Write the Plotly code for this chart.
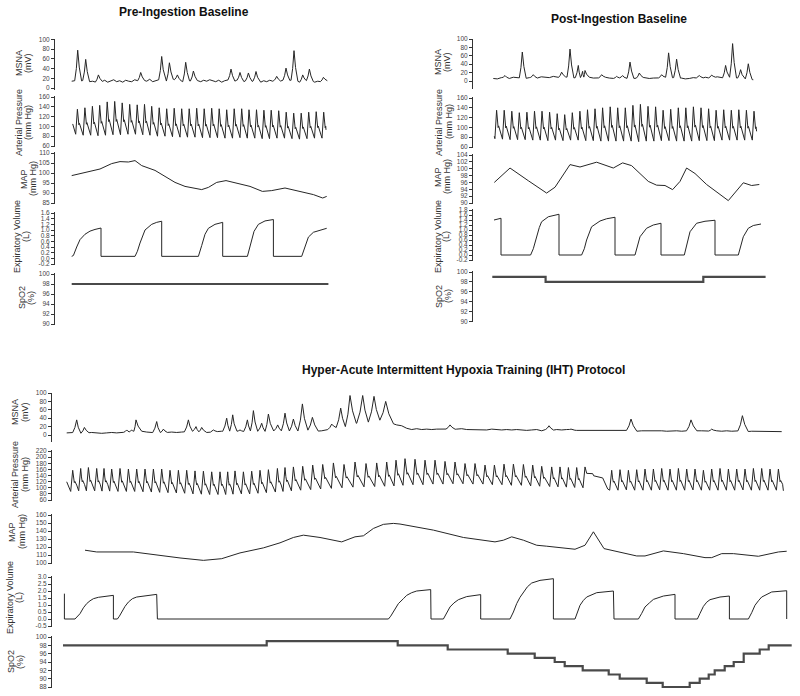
import numpy as np
import plotly.graph_objects as go

W, H = 800, 696
LINE = '#262626'
FONT = 'Liberation Sans, Arial, sans-serif'

# ======================= DATA =======================
# ---- Pre-Ingestion Baseline (time in s) ----
pre_msna_dt = 0.3
pre_msna_base = [14,15,13,14,16,15,13,14,12,15, 13,16,12,14,17,13,15,12,16,14,
                 13,17,15,12,16,14,18,13,15,17, 14,16,13,15,18,14,16,13,17,15,
                 14,18,15,13,16,14,17,15,13,16, 12,15,17,14,13,16,14,12,15,17,
                 13,16,14,12,15,13,16,14,17,13, 15,18,14,16,13,15,12,14,16,13,
                 15,12,14,13,15]
pre_burst_t = [0.6, 1.4, 2.67, 6.9, 9.0, 9.77, 10.57, 11.4, 12.17, 15.93, 16.83, 17.67,
               18.43, 20.5, 21.43, 22.23, 23.1, 23.77, 25.17]
pre_burst_v = [78, 59, 27, 32, 65, 52, 27, 53, 35, 39, 32, 31, 34, 24, 41, 77, 27, 39, 22]

pre_beat_t = [0.57, 1.32, 2.07, 2.8, 3.55, 4.3, 5.05, 5.8, 6.55, 7.28, 8.0, 8.75, 9.5, 10.25,
              11.0, 11.75, 12.5, 13.25, 14.0, 14.75, 15.5, 16.25, 17.0, 17.73, 18.48, 19.22,
              19.95, 20.7, 21.45, 22.2, 22.95, 23.7, 24.45, 25.2]
pre_sys = [135,138,141,143,150,151,148,145,144,145, 141,138,136,137,136,136,137,136,137,136,
           134,136,136,134,134,133,133,132,129,127, 127,129,130,129]
pre_dia = [84,82,82,81,82,83,83,84,84,83, 82,80,80,79,78,78,78,77,77,77,
           76,76,77,76,76,75,75,76,76,75, 74,75,76,76]
pre_ap_start = (0.1, 105)
pre_ap_end = (25.43, 93)

pre_map_t = [0, 2.83, 4.0, 4.83, 5.67, 6.33, 7.0, 8.33, 9.33, 10.33, 11.33, 13.0, 13.67, 14.5,
             15.43, 16.5, 17.83, 19.07, 20.0, 21.33, 22.83, 24.17, 25.1, 25.5]
pre_map_v = [98.7, 102, 104.7, 105.7, 105.5, 106.2, 103.7, 101.3, 98.3, 95.3, 93.3, 91.7, 92.8,
             95.3, 96.2, 95, 93.3, 90.8, 91.2, 92.5, 90.8, 89.2, 87.5, 88.3]

pre_ev_t = [0, 0.17, 0.5, 0.83, 1.33, 1.83, 2.33, 2.83, 2.93, 2.93,
            6.33, 6.57, 6.83, 7.33, 7.67, 8.0, 8.5, 9.0, 9.0,
            12.67, 13.0, 13.33, 13.67, 14.33, 15.1, 15.1,
            17.57, 17.9, 18.23, 18.67, 19.33, 20.17, 20.17,
            23.0, 23.33, 23.67, 24.17, 24.83, 25.5]
pre_ev_v = [0.07, 0.1, 0.4, 0.66, 0.85, 0.96, 1.02, 1.06, 1.07, 0.07,
            0.07, 0.25, 0.54, 1.0, 1.12, 1.2, 1.27, 1.31, 0.07,
            0.07, 0.45, 0.85, 1.06, 1.2, 1.27, 0.07,
            0.07, 0.5, 0.95, 1.2, 1.32, 1.37, 0.07,
            0.07, 0.4, 0.75, 0.92, 1.0, 1.06]

pre_spo2_start = 0.0
pre_spo2_end = [25.67]
pre_spo2_lvl = [98]

# ---- Post-Ingestion Baseline ----
post_msna_dt = 0.4
post_msna_base = [6,5,8,7,6,9,8,7,6,8, 9,7,10,9,8,11,9,8,10,8,
                  7,9,8,10,9,7,8,6,9,7, 6,8,7,5,8,6,7,9,8,6,
                  7,8,6,9,7,8,6,7,5,6, 8,7,6,9,7,8,10,8,7,9,
                  8,7,6,5,4,3]
post_burst_t = [1.17, 2.9, 4.0, 6.83, 7.67, 8.5, 8.93, 9.17, 10.83, 12.33, 12.93, 13.67, 14.6,
                16.83, 17.53, 18.33, 20.6, 21.83, 23.23, 23.93, 24.73, 25.5]
post_burst_v = [13, 69, 15, 21, 76, 37, 23, 25, 15, 11, 13, 45, 19, 15, 67, 52, 13, 14, 37, 89, 27, 41]

post_beat_t = [0.33, 1.09, 1.85, 2.6, 3.36, 4.12, 4.87, 5.63, 6.39, 7.14, 7.9, 8.66, 9.42, 10.17,
               10.93, 11.69, 12.44, 13.2, 13.96, 14.71, 15.47, 16.23, 16.98, 17.74, 18.5, 19.25,
               20.01, 20.77, 21.53, 22.28, 23.04, 23.8, 24.55, 25.31, 26.07]
post_sys = [135,135,133,130,131,133,133,131,128,126, 130,133,136,138,140,142,140,140,145,147,
            143,142,135,137,140,140,142,140,138,135, 136,135,136,135,133]
post_dia = [77,76,75,75,75,74,74,73,74,73, 74,74,73,73,72,72,72,72,72,71,
            72,72,73,73,72,72,72,73,73,73, 74,74,74,74,74]
post_ap_start = (0.1, 82)
post_ap_end = (26.33, 92)

post_map_t = [0.1, 1.67, 3.5, 5.33, 6.17, 7.0, 7.67, 8.67, 10.33, 12.0, 12.93, 13.83, 15.5, 16.33,
              17.17, 17.93, 18.67, 19.33, 20.17, 21.33, 23.5, 25.0, 25.83, 26.6]
post_map_v = [96, 100.2, 96.5, 92.9, 94.6, 98.3, 101.2, 100.5, 101.9, 100.2, 101.7, 100.9, 96.3,
              95.2, 95.1, 93.9, 96.3, 100.2, 98.6, 95.4, 90.7, 95.9, 95.1, 95.4]

post_ev_t = [0.07, 0.77, 0.77,
             3.73, 4.0, 4.33, 4.6, 4.83, 5.5, 6.57, 6.57,
             8.83, 9.1, 9.33, 9.83, 10.67, 11.33, 12.17, 12.17,
             14.17, 14.4, 14.67, 15.33, 16.0, 16.77, 16.77,
             19.1, 19.33, 19.67, 20.33, 21.17, 22.17, 22.17,
             24.5, 24.73, 25.0, 25.5, 26.0, 26.77]
post_ev_v = [1.4, 1.47, 0.0,
             0.0, 0.25, 0.73, 1.1, 1.33, 1.53, 1.63, 0.0,
             0.0, 0.25, 0.6, 1.13, 1.36, 1.45, 1.51, 0.0,
             0.0, 0.3, 0.73, 1.07, 1.2, 1.27, 0.0,
             0.0, 0.4, 0.93, 1.27, 1.35, 1.39, 0.0,
             0.0, 0.3, 0.73, 1.07, 1.18, 1.24]

post_spo2_start = -0.1
post_spo2_end = [5.23, 21.0, 27.23]
post_spo2_lvl = [99, 98, 99]

# ---- Hyper-Acute IHT Protocol ----
iht_msna_dt = 0.5
iht_msna_base = [5,6,5,4,5,6,5,4,5,6,5,
                 6,7,8,10,9,7,6,5,6,6,
                 7,6,7,8,9,8,7,6,7,8,
                 9,8,10,9,8,9,10,9,8,9,
                 10,9,10,9,10,9,11,12,10,9,
                 10,12,16,18,20,20,
                 24,28,30,30,32,34,36,32,
                 28,24,22,16,13,15,
                 13,14,13,14,15,14,13,14,15,13,
                 13,12,13,12,14,13,12,13,12,13,
                 12,11,12,13,10,14,11,13,12,13,
                 12,11,11,10,11,10,10,11,10,10,
                 10,11,10,9,10,10,11,10,10,9,
                 10,10,9,10,11,10,10,9,10,10,
                 9,10,9,10,9,8,9,9,8,9,8,8,8]
iht_burst_t = [1.0, 1.77, 6.0, 6.5, 6.93, 9.0, 9.67, 12.17, 12.93, 13.5, 14.67, 16.0, 16.6,
               17.33, 18.07, 18.67, 19.5, 20.17, 21.1, 21.83, 22.67, 23.57, 24.57, 26.5, 27.4,
               28.33, 29.6, 30.73, 31.9, 38.33, 48.23, 50.43, 56.43, 62.43, 64.5, 67.57]
iht_burst_v = [36, 18, 12, 12, 36, 32, 14, 36, 20, 18, 12, 40, 48, 12, 36, 58, 28, 50, 24, 52,
               38, 74, 42, 26, 64, 94, 94, 92, 80, 24, 22, 14, 38, 36, 14, 46]
iht_burst_w = [0.4, 0.35, 0.3, 0.3, 0.4, 0.4, 0.3, 0.4, 0.35, 0.35, 0.3, 0.4, 0.4, 0.3, 0.4,
               0.45, 0.4, 0.45, 0.4, 0.45, 0.4, 0.5, 0.45, 0.4, 0.5, 0.6, 0.6, 0.6, 0.6,
               0.4, 0.35, 0.3, 0.45, 0.45, 0.3, 0.45]

iht_beat_t_a = [0.6, 1.4, 2.17, 3.0, 3.73, 4.5, 5.33, 6.17, 7.0, 7.83, 8.67, 9.5, 10.33, 11.17,
                12.0, 12.83, 13.67, 14.5, 15.33, 16.1, 16.83, 17.67, 18.5, 19.33, 20.17, 21.07,
                21.83, 22.67, 23.6, 24.6, 25.6, 26.67, 27.73, 28.83, 29.93, 31.0, 32.0, 32.93,
                33.83, 34.83, 35.83, 36.83, 37.83, 38.83, 39.83, 40.83, 41.83, 42.77, 43.73,
                44.67, 45.67, 46.6, 47.5, 48.5, 49.33, 50.17, 51.0, 51.83]
iht_sys_a = [157,163,166,163,163,161,163,161,161,161, 161,161,157,157,157,155,154,152,152,152,
             155,152,154,157,159,163,166,168,170,174, 176,181,176,184,179,181,184,190,
             195,193,190,190,186,184,179,179,174,174, 177,177,176,174,170,168,168,166,166,168]
iht_dia_a = [88,90,90,90,89,89,88,88,88,87, 86,85,84,83,82,80,79,78,78,78,
             79,80,80,82,84,86,88,90,92,94, 96,98,100,102,103,104,105,106,
             108,110,110,112,112,113,113,112,112,110, 110,108,108,106,105,104,103,102,101,100]
iht_artifact_t = [52.0, 52.6, 52.7, 53.6, 54.1]
iht_artifact_v = [147, 146, 139, 132, 96]
iht_beat_t_b = [54.5, 55.33, 56.17, 57.0, 57.83, 58.67, 59.5, 60.33, 61.17, 62.0, 62.83, 63.67,
                64.5, 65.33, 66.17, 67.0, 67.83, 68.67, 69.5, 70.33, 71.17]
iht_sys_b = [157,159,157,159,161,161,163,161,163,161,161,157,161,163,161,161,161,163,163,161,161]
iht_dia_b = [92,92,93,92,92,92,93,92,92,92,93,92,92,92,92,92,93,92,92,92,92]
iht_ap_start = (0.0, 119.5)
iht_ap_end = (71.67, 90)

iht_map_t = [1.83, 3.0, 6.67, 9.0, 11.33, 13.67, 15.5, 17.33, 19.67, 21.33, 22.67, 23.67, 25.33,
             27.5, 28.83, 29.67, 30.67, 31.67, 32.67, 33.33, 36.67, 39.67, 42.83, 43.67, 44.5,
             45.67, 47.0, 48.0, 50.83, 51.83, 52.67, 53.73, 55.0, 57.0, 57.83, 59.67, 61.67,
             63.83, 64.5, 65.5, 66.67, 69.17, 71.17, 72.0]
iht_map_v = [116, 113.8, 113.8, 109.6, 106.3, 103.3, 105.4, 112.6, 118.9, 125.2, 131.9, 134.8,
             131.9, 126.4, 132.7, 134, 143.2, 148.3, 149.5, 148.7, 141.1, 131.9, 126.4, 128.5,
             132.7, 128.5, 122.2, 121, 117.2, 122.2, 139, 118, 114.7, 108.8, 108.8, 115.1, 111.7,
             106.7, 106.7, 111.7, 111.7, 108.4, 113.8, 114.7]

iht_ev_t = [-0.23, -0.23, 0.83,
            1.07, 1.33, 1.67, 2.0, 2.33, 2.67, 3.17, 3.67, 4.67, 4.67,
            5.07, 5.27, 5.5, 5.83, 6.17, 6.57, 7.0, 8.0, 9.0, 9.07,
            32.17, 32.4, 32.67, 33.17, 33.67, 34.0, 34.5, 35.0, 36.4, 36.43,
            37.67, 38.0, 38.33, 38.73, 39.17, 40.0, 41.4, 41.4,
            44.33, 44.67, 45.0, 45.33, 45.67, 46.07, 46.5, 47.33, 48.67, 48.67,
            50.83, 51.07, 51.33, 51.67, 52.0, 53.0, 54.67, 54.73,
            57.17, 57.5, 57.83, 58.27, 58.67, 59.67, 60.83, 60.83,
            63.07, 63.33, 63.67, 64.0, 64.33, 65.33, 66.27, 66.27,
            68.17, 68.5, 68.83, 69.17, 69.5, 70.5, 72.0, 72.0]
iht_ev_v = [1.81, 0.0, 0.0,
            0.15, 0.38, 0.8, 1.1, 1.3, 1.45, 1.55, 1.6, 1.69, 0.0,
            0.0, 0.2, 0.5, 0.9, 1.21, 1.45, 1.57, 1.69, 1.76, 0.0,
            0.0, 0.2, 0.5, 1.1, 1.45, 1.69, 1.88, 2.0, 2.1, 0.0,
            0.0, 0.4, 0.86, 1.15, 1.38, 1.6, 1.74, 0.0,
            0.0, 0.5, 1.1, 1.55, 1.93, 2.3, 2.57, 2.76, 2.88, 0.0,
            0.0, 0.45, 0.98, 1.33, 1.57, 1.88, 2.0, 0.0,
            0.0, 0.4, 0.86, 1.15, 1.4, 1.64, 1.76, 0.0,
            0.0, 0.4, 0.9, 1.2, 1.38, 1.57, 1.64, 0.0,
            0.0, 0.45, 0.98, 1.3, 1.57, 1.93, 2.02, 0.0]

iht_spo2_start = -0.37
iht_spo2_end = [20.0, 33.1, 38.1, 44.1, 46.8, 48.8, 49.8, 51.6, 54.2, 55.3, 58.0, 59.6, 62.3,
                63.3, 64.2, 64.8, 65.8, 66.7, 67.7, 69.3, 70.2, 72.5]
iht_spo2_lvl = [98, 99, 98, 97, 96, 95, 94, 93, 92, 91, 90, 89, 88, 89, 90, 91, 92, 93, 94, 96,
                97, 98]

# ======================= BUILDERS =======================
# pulse template after each systolic peak: (fraction of beat interval, fraction of pulse pressure)
SHAPE = [(0.10, 0.62), (0.20, 0.40), (0.27, 0.46), (0.50, 0.28)]


def msna_trace(base, dt, bt, bv, bw):
    tb = np.arange(len(base)) * dt
    base = np.asarray(base, float)
    n = len(bt)
    widths = bw if isinstance(bw, (list, tuple)) else [bw] * n
    keep = np.ones(len(tb), bool)
    extra = []
    for i in range(n):
        t, v, w = bt[i], bv[i], widths[i]
        lo, hi = t - w, t + 1.3 * w
        if i > 0:
            lo = max(lo, (bt[i - 1] + t) / 2)
        if i < n - 1:
            hi = min(hi, (bt[i + 1] + t) / 2)
        keep &= ~((tb > lo) & (tb < hi))
        blo = float(np.interp(lo, tb, base))
        bhi = float(np.interp(hi, tb, base))
        extra += [(lo, blo), (t - 0.45 * (t - lo), blo + 0.4 * (v - blo)), (t, v),
                  (t + 0.4 * (hi - t), bhi + 0.45 * (v - bhi)), (hi, bhi)]
    pts = [(tb[k], base[k]) for k in range(len(tb)) if keep[k]] + extra
    pts.sort(key=lambda p: p[0])
    return [p[0] for p in pts], [p[1] for p in pts]


def pulse_trace(bt, sy, dy, rise, start=None, end=None):
    xs, ys = [], []
    if start is not None:
        xs.append(start[0]); ys.append(start[1])
    n = len(bt)
    for i in range(n):
        t = bt[i]
        xs += [t - rise, t]; ys += [dy[i], sy[i]]
        if i < n - 1:
            T = bt[i + 1] - t; dn = dy[i + 1]
            for fx, fy in SHAPE:
                xs.append(t + fx * T); ys.append(dn + fy * (sy[i] - dn))
        elif end is not None:
            T = bt[i] - bt[i - 1]; dn = dy[i]
            for fx, fy in SHAPE:
                if t + fx * T < end[0]:
                    xs.append(t + fx * T); ys.append(dn + fy * (sy[i] - dn))
            xs.append(end[0]); ys.append(end[1])
    return xs, ys


def step_trace(t0, ends, lvls):
    return [t0] + list(ends), list(lvls) + [lvls[-1]]


# ======================= LAYOUT SPEC =======================
# panel: x domain in px, px position of t=0, px per second
PANELS = {
    'pre': dict(xdom=(55, 340), x0=71.7),
    'post': dict(xdom=(473, 775), x0=493.3),
    'iht': dict(xdom=(52, 795), x0=66.7),
}
PXS = 10.0

def ticks(a, b, s):
    n = int(round((b - a) / s))
    return [round(a + k * s, 2) for k in range(n + 1)]

# (v_top, px_top, v_bot, px_bot, line_top, line_bot, tickvals, decimals)
YSPEC = {
    ('pre', 0): (100, 39.5, 0, 88, 39, 90, ticks(0, 100, 20), 0),
    ('pre', 1): (160, 97, 60, 146, 96, 147, ticks(60, 160, 20), 0),
    ('pre', 2): (110, 153, 85, 203, 152, 204, ticks(85, 110, 5), 0),
    ('pre', 3): (1.6, 213, -0.2, 264, 212, 265, ticks(-0.2, 1.6, 0.2), 1),
    ('pre', 4): (100, 274, 90, 324, 273, 325, ticks(90, 100, 2), 0),
    ('post', 0): (100, 39, 0, 81, 39, 89, ticks(0, 100, 20), 0),
    ('post', 1): (160, 98, 60, 147, 97, 148, ticks(60, 160, 20), 0),
    ('post', 2): (104, 155, 90, 203, 154, 204, ticks(90, 104, 2), 0),
    ('post', 3): (1.8, 210, -0.2, 260, 209, 261, ticks(-0.2, 1.8, 0.2), 1),
    ('post', 4): (100, 272, 90, 321.5, 271, 322, ticks(90, 100, 2), 0),
    ('iht', 0): (100, 393, 0, 435, 393, 442, ticks(0, 100, 20), 0),
    ('iht', 1): (220, 451, 60, 500, 450, 501, ticks(60, 220, 20), 0),
    ('iht', 2): (160, 515, 100, 563, 514, 564, ticks(100, 160, 10), 0),
    ('iht', 3): (3.0, 577, -0.5, 626, 576, 627, ticks(-0.5, 3.0, 0.5), 1),
    ('iht', 4): (100, 637, 88, 687, 636, 688, ticks(88, 100, 2), 0),
}

TITLES = [
    ('MSNA', '(mV)'), ('Arterial Pressure', '(mm Hg)'), ('MAP', '(mm Hg)'),
    ('Expiratory Volume', '(L)'), ('SpO2', '(%)'),
]
# (x of line 1, x of line 2, y centre) in px
TITLE_POS = {
    'pre': [(19, 28, 63), (19, 28, 123), (24, 33, 179), (17, 26, 237), (22, 31, 298)],
    'post': [(438, 447, 62), (439, 449, 122), (438, 447, 177), (438, 446, 237), (439, 448, 296)],
    'iht': [(15, 25, 412), (15, 25, 475), (12, 22, 532), (10, 19, 598), (11, 20, 662)],
}
PANEL_TITLES = [
    ('Pre-Ingestion Baseline', 184, 12),
    ('Post-Ingestion Baseline', 619, 19),
    ('Hyper-Acute Intermittent Hypoxia Training (IHT) Protocol', 463, 370),
]

# ======================= BUILD SERIES =======================
series = {
    'pre': [
        msna_trace(pre_msna_base, pre_msna_dt, pre_burst_t, pre_burst_v, 0.3),
        pulse_trace(pre_beat_t, pre_sys, pre_dia, 0.17, pre_ap_start, pre_ap_end),
        (pre_map_t, pre_map_v),
        (pre_ev_t, pre_ev_v),
        step_trace(pre_spo2_start, pre_spo2_end, pre_spo2_lvl),
    ],
    'post': [
        msna_trace(post_msna_base, post_msna_dt, post_burst_t, post_burst_v, 0.3),
        pulse_trace(post_beat_t, post_sys, post_dia, 0.17, post_ap_start, post_ap_end),
        (post_map_t, post_map_v),
        (post_ev_t, post_ev_v),
        step_trace(post_spo2_start, post_spo2_end, post_spo2_lvl),
    ],
}
ax_a, ay_a = pulse_trace(iht_beat_t_a, iht_sys_a, iht_dia_a, 0.2, iht_ap_start, None)
ax_b, ay_b = pulse_trace(iht_beat_t_b, iht_sys_b, iht_dia_b, 0.2, None, iht_ap_end)
series['iht'] = [
    msna_trace(iht_msna_base, iht_msna_dt, iht_burst_t, iht_burst_v, iht_burst_w),
    (ax_a + iht_artifact_t + ax_b, ay_a + iht_artifact_v + ay_b),
    (iht_map_t, iht_map_v),
    (iht_ev_t, iht_ev_v),
    step_trace(iht_spo2_start, iht_spo2_end, iht_spo2_lvl),
]

# ======================= FIGURE =======================
fig = go.Figure()
layout = dict(width=W, height=H, margin=dict(l=0, r=0, t=0, b=0),
              paper_bgcolor='white', plot_bgcolor='white', showlegend=False,
              annotations=[])

k = 0
for pname in ['pre', 'post', 'iht']:
    P = PANELS[pname]
    xa, xb = P['xdom']
    for r in range(5):
        k += 1
        xn = 'x' if k == 1 else f'x{k}'
        yn = 'y' if k == 1 else f'y{k}'
        xs, ys = series[pname][r]
        is_spo2 = (r == 4)
        fig.add_trace(go.Scatter(
            x=xs, y=ys, mode='lines', xaxis=xn, yaxis=yn, hoverinfo='skip',
            line=dict(color='#4a4a4a' if is_spo2 else LINE, width=2.2 if is_spo2 else 1,
                      shape='hv' if is_spo2 else 'linear')))
        vt, pt, vb, pb, lt, lb, tv, dec = YSPEC[(pname, r)]
        s = (vt - vb) / (pb - pt)
        yr = [vb - (lb - pb) * s, vt + (pt - lt) * s]
        layout['xaxis' if k == 1 else f'xaxis{k}'] = dict(
            domain=[xa / W, xb / W],
            range=[(xa - P['x0']) / PXS, (xb - P['x0']) / PXS],
            visible=False, anchor=yn, fixedrange=True)
        layout['yaxis' if k == 1 else f'yaxis{k}'] = dict(
            domain=[1 - lb / H, 1 - lt / H], range=yr, anchor=xn,
            tickmode='array', tickvals=tv,
            ticktext=[f'{v:.{dec}f}' for v in tv],
            showline=True, linecolor='#333', linewidth=1,
            ticks='outside', ticklen=3, tickwidth=1, tickcolor='#333',
            showgrid=False, zeroline=False, automargin=False, fixedrange=True,
            tickfont=dict(family=FONT, size=6.5, color='#444'))
        x1, x2, yc = TITLE_POS[pname][r]
        for txt, xp in zip(TITLES[r], (x1, x2)):
            layout['annotations'].append(dict(
                text=txt, x=xp / W, y=1 - yc / H, xref='paper', yref='paper',
                xanchor='center', yanchor='middle', textangle=-90, showarrow=False,
                font=dict(family=FONT, size=9, color='#333')))

for txt, xp, yp in PANEL_TITLES:
    layout['annotations'].append(dict(
        text=f'<b>{txt}</b>', x=xp / W, y=1 - yp / H, xref='paper', yref='paper',
        xanchor='center', yanchor='middle', showarrow=False,
        font=dict(family=FONT, size=12, color='#111')))

fig.update_layout(**layout)
fig.write_html('out.html', config={'displayModeBar': False},
               post_script="document.body.style.margin='0';document.body.style.overflow='hidden';")
